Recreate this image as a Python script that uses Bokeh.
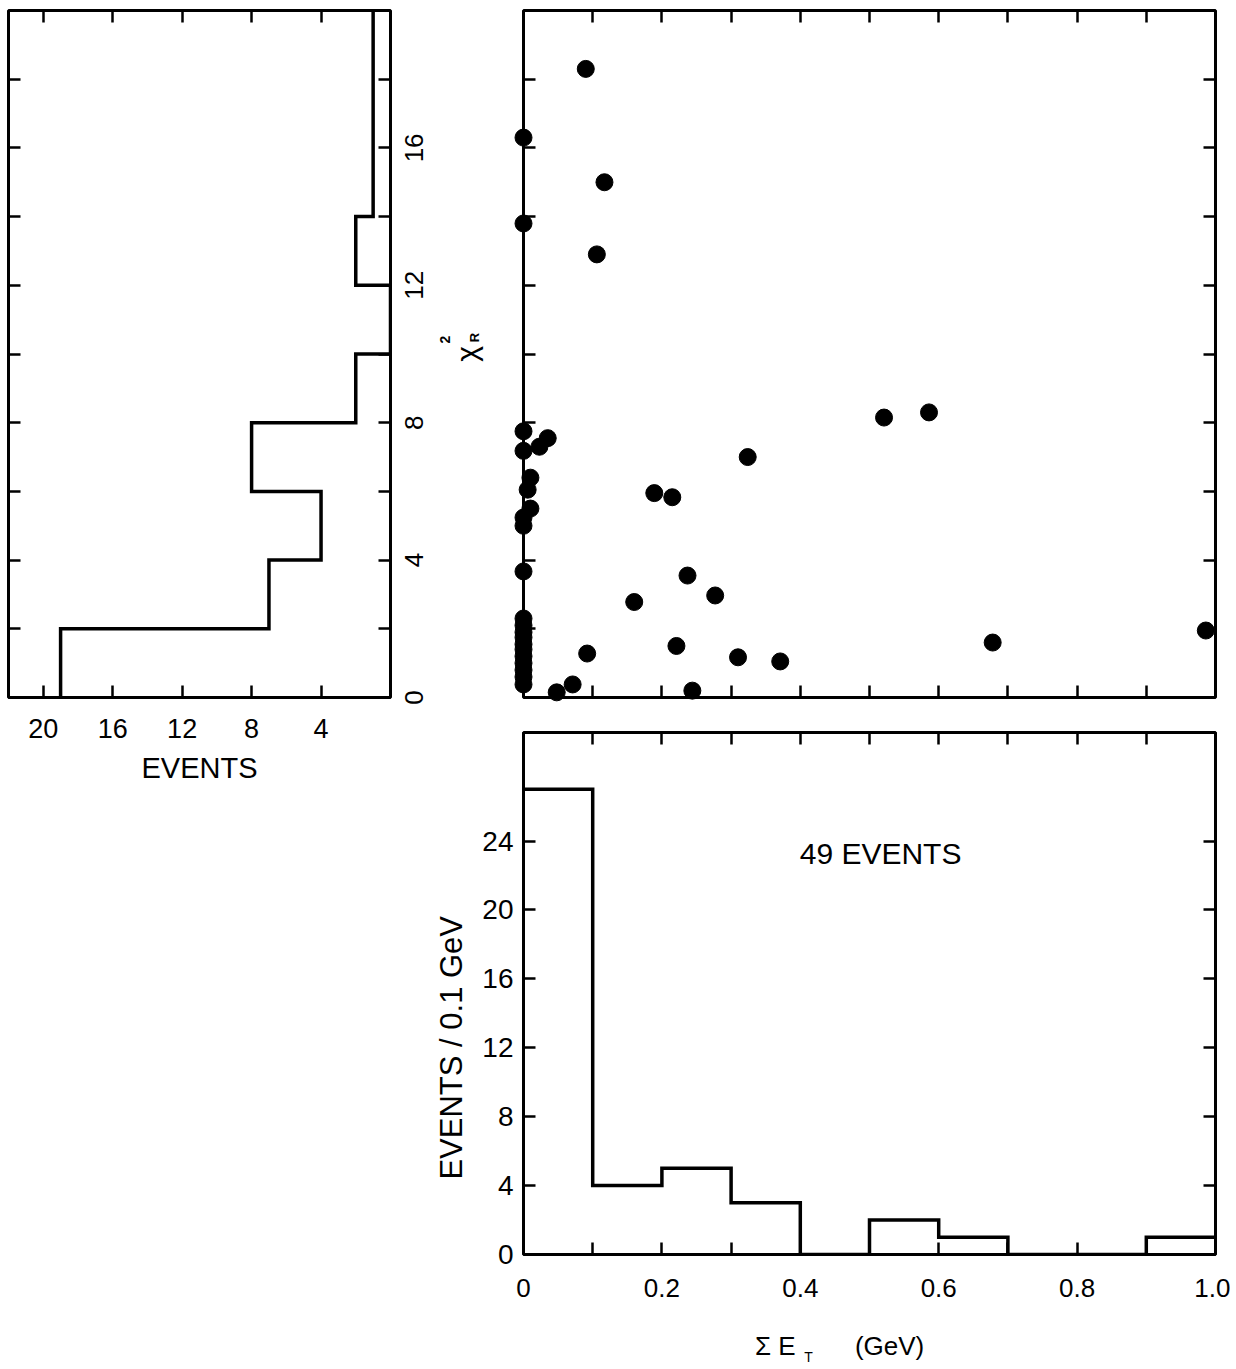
import math
import numpy as np
from bokeh.plotting import figure
from bokeh.models import FixedTicker, LinearAxis, Range1d
from bokeh.core.properties import value
from bokeh.layouts import row, column
from bokeh.embed import file_html
from bokeh.resources import INLINE

FONT = "Liberation Sans"

# ---------------- data ----------------
# left histogram: chi^2_R distribution (horizontal bars)
chi2_bin_edges = [0, 2, 4, 6, 8, 10, 12, 14, 16, 18, 20]
chi2_bin_counts = [19, 7, 4, 8, 2, 0, 2, 1, 1, 1]
left_x_ticks = [20, 16, 12, 8, 4]
left_x_tick_labels = ["20", "16", "12", "8", "4"]
chi2_ticks = [0, 4, 8, 12, 16]
chi2_tick_labels = ["0", "4", "8", "12", "16"]
chi2_minor_ticks = [2, 6, 10, 14, 18]

# scatter: sum E_T (GeV) vs chi^2_R
sum_et = [0.090, 0.000, 0.117, 0.000, 0.106, 0.521, 0.586, 0.000, 0.035, 0.023,
          0.000, 0.324, 0.010, 0.006, 0.189, 0.215, 0.010, 0.000, 0.000, 0.000,
          0.237, 0.160, 0.277, 0.986, 0.678, 0.221, 0.092, 0.310, 0.371, 0.048,
          0.071, 0.244,
          0.000, 0.000, 0.000, 0.000, 0.000, 0.000, 0.000, 0.000, 0.000, 0.000, 0.000]
chi2_r = [18.3, 16.3, 15.0, 13.8, 12.9, 8.15, 8.3, 7.75, 7.55, 7.3,
          7.18, 7.0, 6.4, 6.05, 5.95, 5.83, 5.5, 5.24, 5.0, 3.67,
          3.55, 2.78, 2.97, 1.95, 1.6, 1.5, 1.28, 1.17, 1.05, 0.15,
          0.38, 0.2,
          2.3, 2.1, 1.9, 1.75, 1.55, 1.4, 1.2, 1.0, 0.8, 0.6, 0.38]
scatter_x_ticks = [0.1, 0.2, 0.3, 0.4, 0.5, 0.6, 0.7, 0.8, 0.9]
scatter_y_ticks = [2, 4, 6, 8, 10, 12, 14, 16, 18]

# bottom histogram: sum E_T
et_bin_edges = [0.0, 0.1, 0.2, 0.3, 0.4, 0.5, 0.6, 0.7, 0.8, 0.9, 1.0]
et_bin_counts = [27, 4, 5, 3, 0, 2, 1, 0, 0, 1]
et_ticks = [0.0, 0.2, 0.4, 0.6, 0.8, 1.0]
et_tick_labels = ["0", "0.2", "0.4", "0.6", "0.8", "1.0"]
et_minor_ticks = [0.1, 0.3, 0.5, 0.7, 0.9]
count_ticks = [0, 4, 8, 12, 16, 20, 24]
count_tick_labels = ["0", "4", "8", "12", "16", "20", "24"]

TICK_LEN = 12
TICK_W = 2.5


def style_fig(p):
    p.outline_line_color = "black"
    p.outline_line_width = 3
    p.xgrid.grid_line_color = None
    p.ygrid.grid_line_color = None
    p.background_fill_color = "white"
    p.border_fill_color = "white"


def style_axis(ax, ticks, minor=None, labels=None, size="28px", standoff=10):
    ax.ticker = FixedTicker(ticks=list(ticks), minor_ticks=list(minor or []))
    ax.major_tick_in = TICK_LEN
    ax.major_tick_out = 0
    ax.minor_tick_in = TICK_LEN
    ax.minor_tick_out = 0
    ax.major_tick_line_width = TICK_W
    ax.minor_tick_line_width = TICK_W
    ax.major_tick_line_color = "black"
    ax.minor_tick_line_color = "black"
    ax.axis_line_color = None
    if labels is None:
        ax.major_label_overrides = {t: "" for t in ticks}
        ax.major_label_text_font_size = "1px"
        ax.major_label_standoff = 0
    else:
        ax.major_label_overrides = {t: s for t, s in zip(ticks, labels)}
        ax.major_label_text_font = FONT
        ax.major_label_text_font_size = size
        ax.major_label_text_color = "black"
        ax.major_label_standoff = standoff


def add_text(p, xs, ys, texts, size, angle=0.0, style="normal"):
    p.text(x=xs, y=ys, text=texts, angle=angle, text_font=value(FONT),
           text_font_size=value(size), text_font_style=style, text_align="center",
           text_baseline="middle", text_color="black", level="annotation")


# ---------------- left histogram ----------------
pl = figure(width=430, height=800, x_range=Range1d(22, 0), y_range=Range1d(0, 20),
            output_backend="svg", toolbar_location=None,
            x_axis_location="below", y_axis_location="right",
            min_border_left=8, min_border_right=40, min_border_top=10, min_border_bottom=103)
style_fig(pl)
style_axis(pl.xaxis[0], left_x_ticks, None, left_x_tick_labels, size="27px", standoff=21)
pl.xaxis[0].axis_label = "EVENTS"
pl.xaxis[0].axis_label_text_font = FONT
pl.xaxis[0].axis_label_text_font_size = "29px"
pl.xaxis[0].axis_label_text_font_style = "normal"
pl.xaxis[0].axis_label_text_color = "black"
pl.xaxis[0].axis_label_standoff = 11
style_axis(pl.yaxis[0], chi2_ticks, chi2_minor_ticks)
ax_top = LinearAxis()
style_axis(ax_top, left_x_ticks)
pl.add_layout(ax_top, "above")
ax_left = LinearAxis()
style_axis(ax_left, chi2_ticks, chi2_minor_ticks)
pl.add_layout(ax_left, "left")

ce = np.array(chi2_bin_edges, dtype=float)
cc = np.array(chi2_bin_counts, dtype=float)
pl.line(x=np.repeat(cc, 2), y=np.repeat(ce, 2)[1:-1], line_color="black",
        line_width=3.5, line_join="miter")
# rotated chi^2 tick labels, right of the panel
add_text(pl, [-1.35] * len(chi2_ticks), chi2_ticks, chi2_tick_labels, "26px",
         angle=math.pi / 2)

# ---------------- scatter ----------------
ps = figure(width=800, height=712, x_range=Range1d(0, 1.0), y_range=Range1d(0, 20),
            output_backend="svg", toolbar_location=None,
            min_border_left=93, min_border_right=15, min_border_top=10, min_border_bottom=15)
style_fig(ps)
style_axis(ps.xaxis[0], scatter_x_ticks)
style_axis(ps.yaxis[0], scatter_y_ticks)
for loc, ticks in (("above", scatter_x_ticks), ("right", scatter_y_ticks)):
    a = LinearAxis()
    style_axis(a, ticks)
    ps.add_layout(a, loc)
ps.scatter(x=sum_et, y=chi2_r, size=17, marker="circle", fill_color="black",
           line_color="black", level="annotation")
# axis title chi^2_R (rotated)
add_text(ps, [-0.082], [10.0], ["χ"], "30px", angle=math.pi / 2)
add_text(ps, [-0.113], [10.42], ["2"], "14px", angle=math.pi / 2, style="bold")
add_text(ps, [-0.071], [10.48], ["R"], "13px", angle=math.pi / 2, style="bold")

# ---------------- bottom histogram ----------------
pb = figure(width=800, height=656, x_range=Range1d(0, 1.0), y_range=Range1d(0, 30.3),
            output_backend="svg", toolbar_location=None,
            min_border_left=93, min_border_right=15, min_border_top=20, min_border_bottom=114)
style_fig(pb)
style_axis(pb.xaxis[0], et_ticks, et_minor_ticks, et_tick_labels, size="26px", standoff=24)
style_axis(pb.yaxis[0], count_ticks, None, count_tick_labels, size="28px", standoff=10)
for loc, ticks, minor in (("above", et_ticks, et_minor_ticks), ("right", count_ticks, None)):
    a = LinearAxis()
    style_axis(a, ticks, minor)
    pb.add_layout(a, loc)

ee = np.array(et_bin_edges, dtype=float)
ec = np.array(et_bin_counts, dtype=float)
pb.line(x=np.repeat(ee, 2)[1:-1], y=np.repeat(ec, 2), line_color="black",
        line_width=3.5, line_join="miter")

add_text(pb, [0.516], [23.3], ["49 EVENTS"], "30px")
add_text(pb, [-0.104], [12.0], ["EVENTS / 0.1 GeV"], "31px", angle=math.pi / 2)
add_text(pb, [0.364, 0.529], [-5.34, -5.34], ["Σ E", "(GeV)"], "26px")
add_text(pb, [0.412], [-5.95], ["T"], "14px")

layout = row(pl, column(ps, pb))
open("out.html", "w").write(file_html(layout, INLINE))
